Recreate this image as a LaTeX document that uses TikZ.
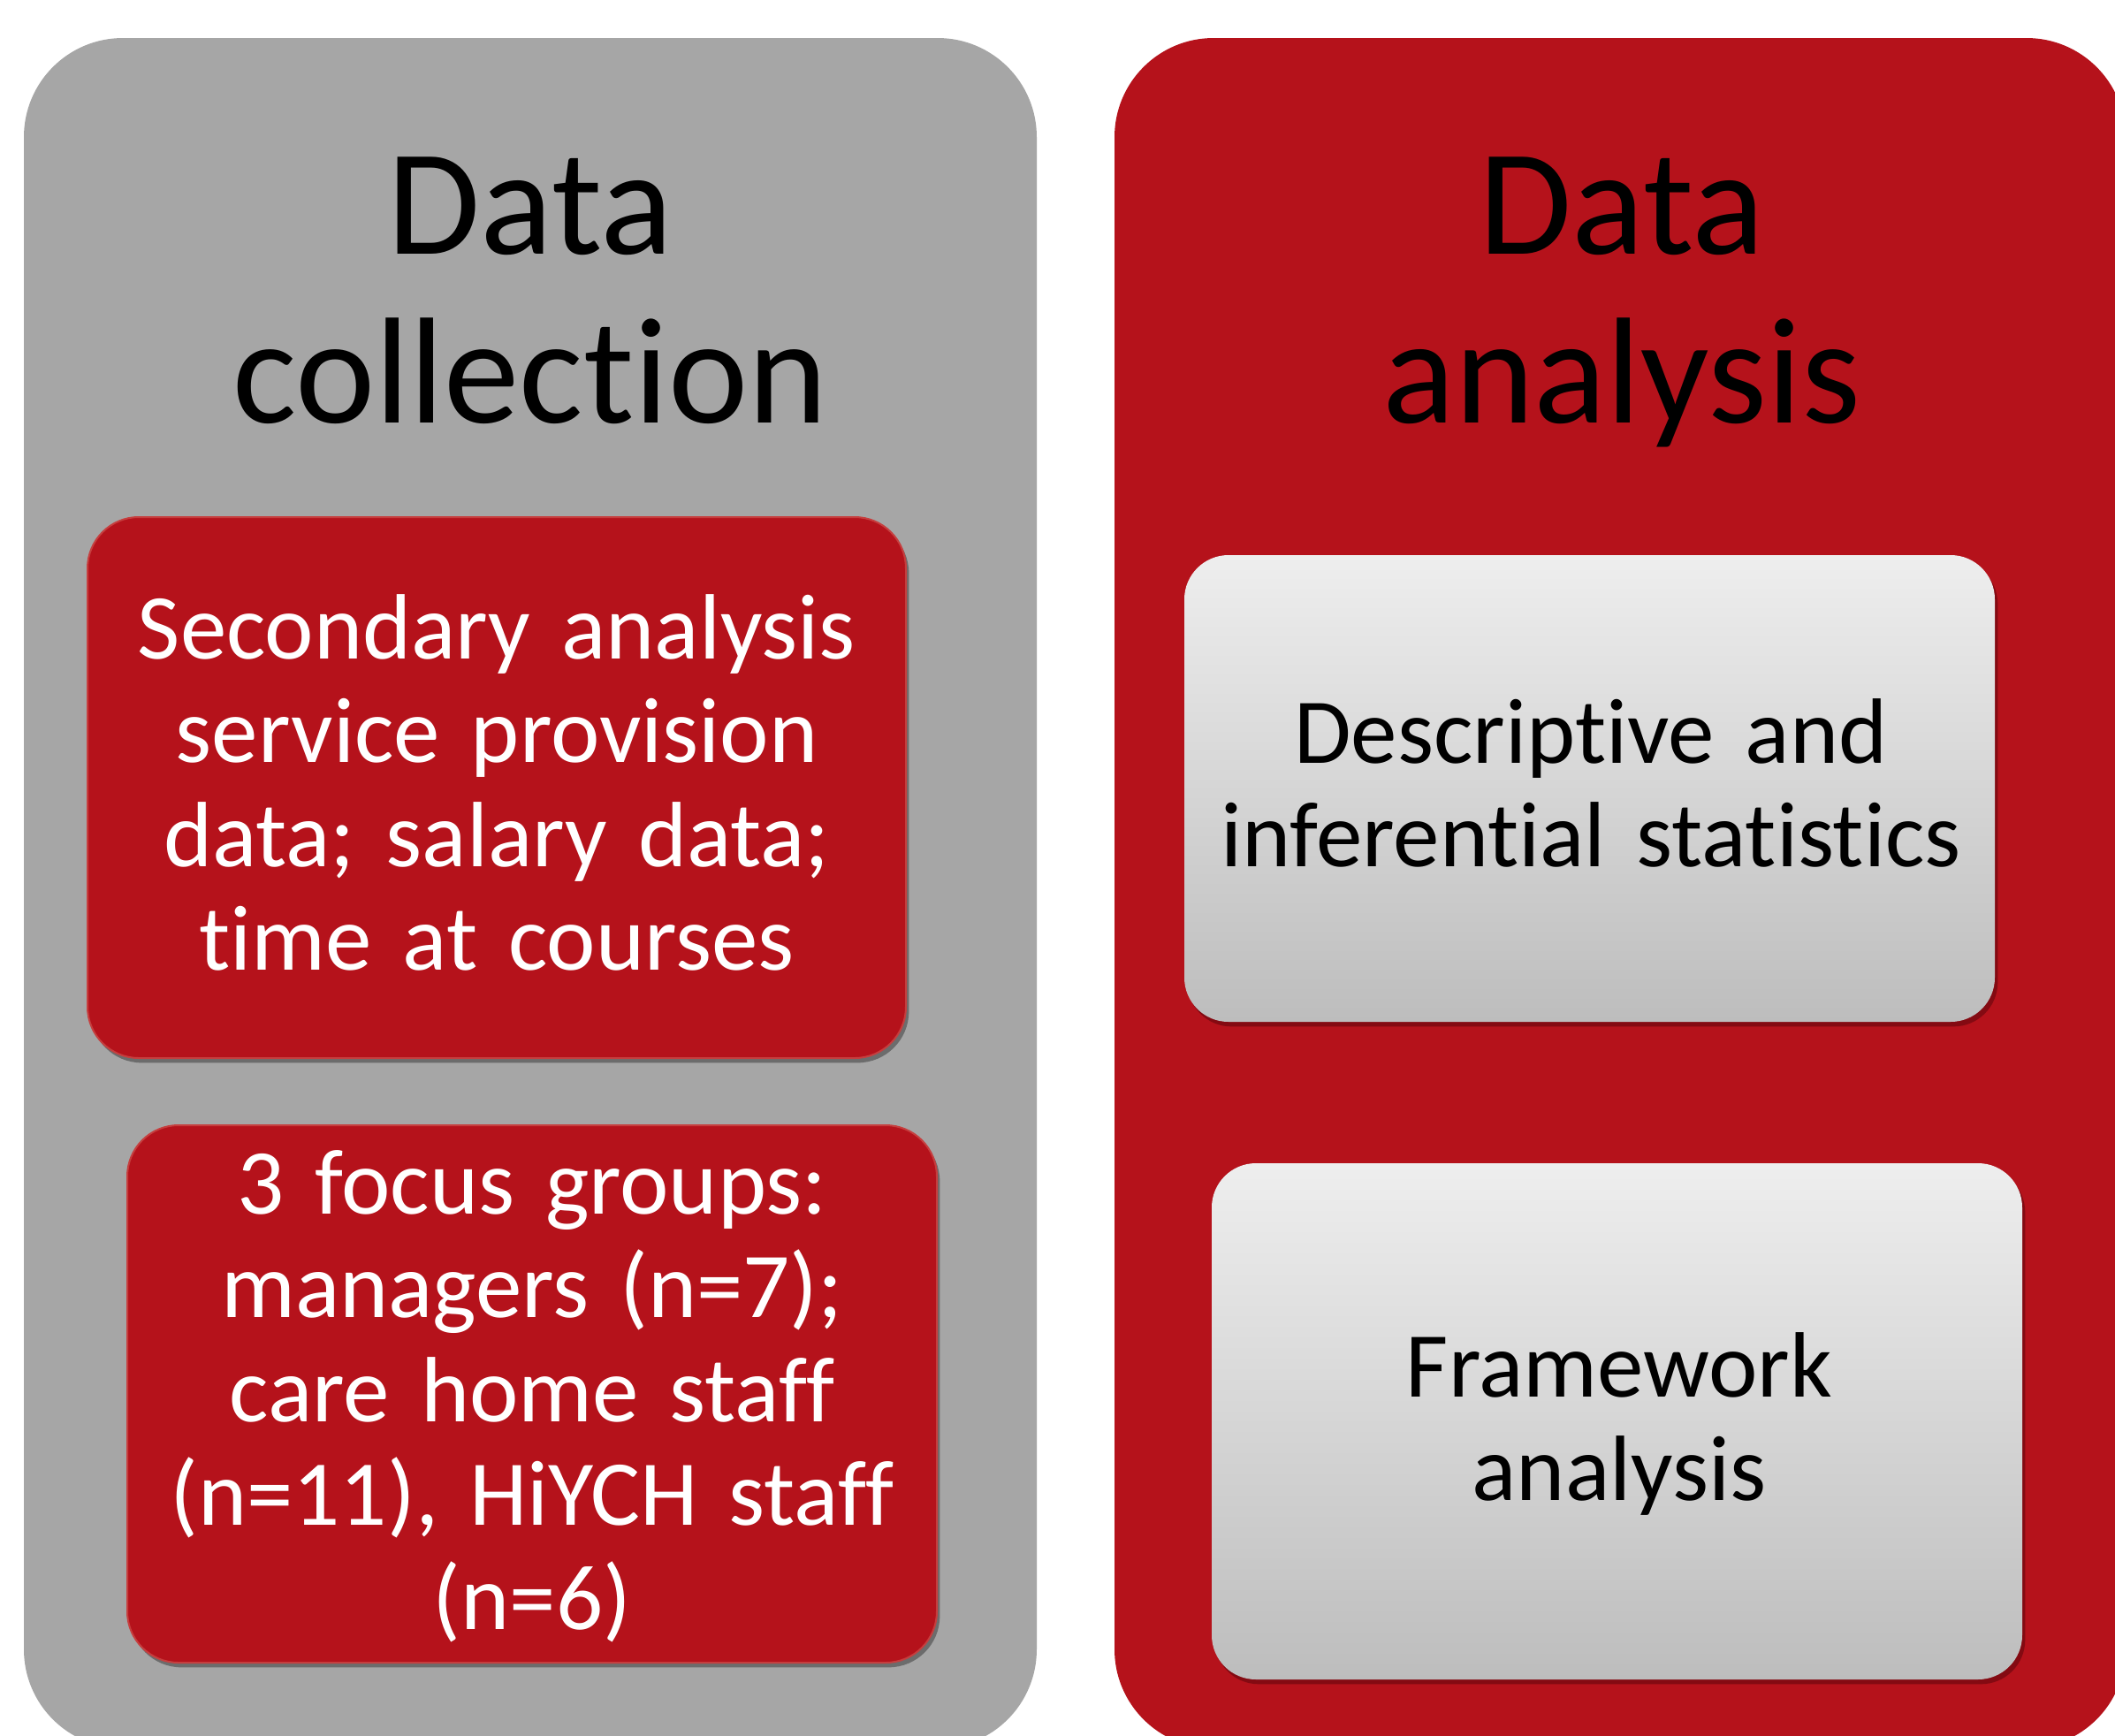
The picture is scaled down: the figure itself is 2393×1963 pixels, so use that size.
\documentclass[tikz,border=0pt]{standalone}
\usepackage{fontspec}
\setmainfont{Carlito}[Ligatures={NoCommon}, WordSpace=0.72]
\usetikzlibrary{shadows}
\definecolor{panelgray}{RGB}{166,166,166}
\definecolor{panelred}{RGB}{181,18,27}
\definecolor{boxtop}{RGB}{238,238,238}
\definecolor{boxbot}{RGB}{189,189,189}
\definecolor{rededge}{RGB}{198,62,62}
\definecolor{redshadow}{RGB}{100,6,12}
\begin{document}
\begin{tikzpicture}[x=0.3pt,y=-0.3pt,
  panel/.style={rectangle, rounded corners=33.6pt, inner sep=0pt, draw=none},
  redbox/.style={rectangle, rounded corners=17.4pt, fill=panelred, draw=rededge, line width=0.6pt, inner sep=0pt,
    drop shadow={shadow xshift=1.0pt, shadow yshift=-1.6pt, opacity=0.35, fill=black}},
  graybox/.style={rectangle, rounded corners=15pt, top color=boxtop, bottom color=boxbot, draw=none, inner sep=0pt,
    drop shadow={shadow xshift=1.0pt, shadow yshift=-1.6pt, opacity=0.6, fill=redshadow}},
  titletext/.style={anchor=base, text width=300pt, align=center, inner sep=0pt, font=\fontsize{51.3}{57.3}\selectfont},
  bodytext/.style={anchor=base, text width=290pt, align=center, inner sep=0pt, font=\fontsize{31.5}{35.25}\selectfont},
]
\useasboundingbox (0,0) rectangle (2393,1963);
\fill[white] (0,0) rectangle (2393,1963);

% panels
\node[panel, fill=panelgray, minimum width=343.8pt, minimum height=580.5pt] (colpanel) at (600,1010.5) {};
\node[panel, fill=panelred, minimum width=343.2pt, minimum height=580.5pt] (anapanel) at (1833,1010.5) {};

% titles
\node[titletext, text=black] (coltitle) at (600,287) {Data\\collection};
\node[titletext, text=black] (anatitle) at (1835,287) {Data\\analysis};

% boxes
\node[redbox, minimum width=277.8pt, minimum height=183.6pt] (b1) at (562,891) {};
\node[redbox, minimum width=274.8pt, minimum height=182.4pt] (b2) at (602,1577) {};
\node[graybox, minimum width=275.1pt, minimum height=158.4pt] (b3) at (1798.5,892) {};
\node[graybox, minimum width=275.1pt, minimum height=175.2pt] (b4) at (1829.5,1608) {};

% texts
\node[bodytext, text=white] (t1) at (562,745) {Secondary analysis\\service provision\\data; salary data;\\time at courses};
\node[bodytext, text=white] (t2) at (602,1373) {3 focus groups:\\managers (n=7);\\care home staff\\(n=11), HiYCH staff\\(n=6)};
\node[bodytext, text=black] (t3) at (1800,863) {Descriptive and\\inferential statistics};
\node[bodytext, text=black] (t4) at (1832,1580) {Framework\\analysis};
\end{tikzpicture}
\end{document}
